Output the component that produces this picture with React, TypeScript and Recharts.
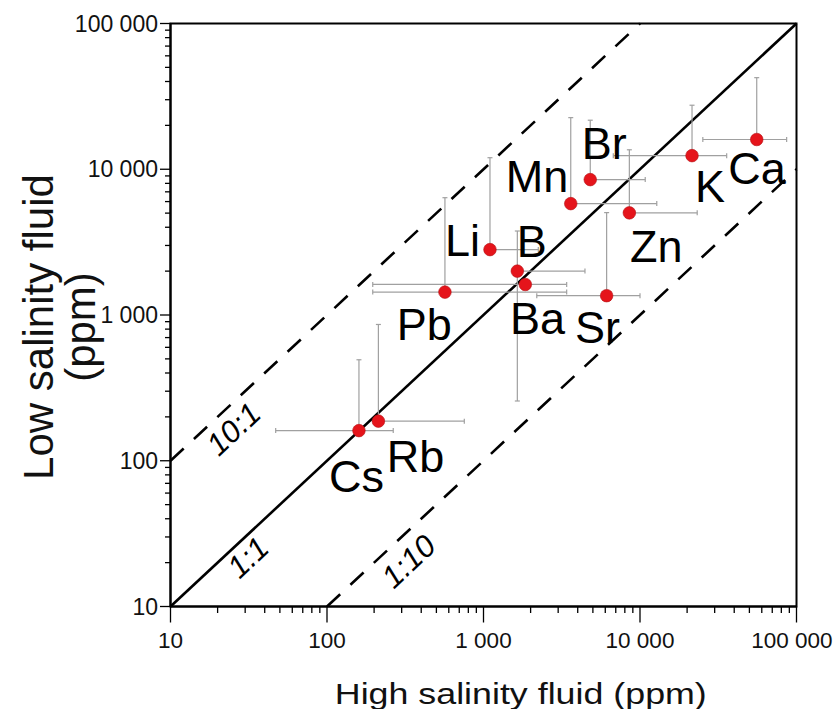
import React from 'react';
import {
  ScatterChart,
  Scatter,
  XAxis,
  YAxis,
  ErrorBar,
  ReferenceLine,
  ReferenceArea,
  ReferenceDot,
  Label,
} from 'recharts';

// ---- data ----
const elements = ['Cs', 'Rb', 'Pb', 'Li', 'B', 'Ba', 'Sr', 'Mn', 'Br', 'Zn', 'K', 'Ca'];
const highSalinity = [160, 213, 567, 1100, 1645, 1850, 6120, 3610, 4810, 8550, 21500, 55700];
const lowSalinity = [161, 187, 1436, 2810, 2000, 1620, 1357, 5810, 8490, 5020, 12400, 16000];
const highMin = [47, 213, 196, 1100, 1645, 196, 2190, 3610, 4810, 8550, 6750, 25200];
const highMax = [265, 754, 3400, 2240, 4450, 3400, 10000, 12800, 10800, 23200, 35800, 86500];
const lowMin = [161, 187, 1436, 2810, 257, 1620, 1357, 5810, 8490, 5020, 12400, 16000];
const lowMax = [493, 861, 6380, 12000, 3770, 1620, 5040, 22600, 21700, 13600, 27500, 42500];

const majorTicks = [10, 100, 1000, 10000, 100000];
const majorTickLabels = ['10', '100', '1 000', '10 000', '100 000'];
const minorMultipliers = [2, 3, 4, 5, 6, 7, 8, 9];

const ratioLabels = ['10:1', '1:1', '1:10'];
const ratioFactors = [10, 1, 0.1];
const ratioLabelX = [25.3, 31.3, 332];
const ratioLabelY = [165, 21.7, 20.4];

const DOMAIN: [number, number] = [10, 100000];

const allTicks = [
  ...majorTicks,
  ...majorTicks.slice(0, -1).flatMap((d) => minorMultipliers.map((m) => d * m)),
];

const data = elements.map((el, i) => ({
  el,
  x: highSalinity[i],
  y: lowSalinity[i],
  ex: [highSalinity[i] - highMin[i], highMax[i] - highSalinity[i]],
  ey: [lowSalinity[i] - lowMin[i], lowMax[i] - lowSalinity[i]],
}));

// label placement relative to the dot: [dx, dy, anchor]
const labelOffset: Record<string, [number, number, string]> = {
  Br: [-8.6, -21, 'start'],
  Mn: [-2.4, -11.6, 'end'],
  Li: [-10, 6.7, 'end'],
  B: [-0.6, -14, 'start'],
  Zn: [0.7, 49.2, 'start'],
  K: [3, 46.4, 'start'],
  Ca: [-28.4, 44.3, 'start'],
  Pb: [-48.3, 47.6, 'start'],
  Ba: [-15.3, 49.3, 'start'],
  Sr: [-31.7, 47.7, 'start'],
  Cs: [-30, 61.7, 'start'],
  Rb: [8.4, 51, 'start'],
};

const FONT = '"Liberation Sans", Arial, Helvetica, sans-serif';
const SLOPE_ANGLE = -43;

const XTick = (props: any) => {
  const { x, y, payload } = props;
  const idx = majorTicks.indexOf(payload.value);
  const major = idx >= 0;
  const last = idx === majorTicks.length - 1;
  return (
    <g>
      <line x1={x} x2={x} y1={y} y2={y + (major ? 16 : 6.5)} stroke="#000" strokeWidth={1.3} />
      {major && (
        <text
          x={last ? x + 36 : x}
          y={y + 41}
          textAnchor={last ? 'end' : 'middle'}
          fontSize={22.5}
          fontFamily={FONT}
          fill="#111"
        >
          {majorTickLabels[idx]}
        </text>
      )}
    </g>
  );
};

const YTick = (props: any) => {
  const { x, y, payload } = props;
  const idx = majorTicks.indexOf(payload.value);
  const major = idx >= 0;
  return (
    <g>
      <line x1={x} x2={x - (major ? 10.5 : 5.5)} y1={y} y2={y} stroke="#000" strokeWidth={1.3} />
      {major && (
        <text x={x - 12.5} y={y + 8} textAnchor="end" fontSize={23} fontFamily={FONT} fill="#111">
          {majorTickLabels[idx]}
        </text>
      )}
    </g>
  );
};

const XTitle = (props: any) => {
  const vb = props.viewBox;
  return (
    <text
      x={vb.x + vb.width / 2 + 37.3}
      y={vb.y + 97.8}
      textAnchor="middle"
      fontSize={30}
      fontFamily={FONT}
      fill="#111"
      textLength={372}
      lengthAdjust="spacingAndGlyphs"
    >
      High salinity fluid (ppm)
    </text>
  );
};

const YTitle = (props: any) => {
  const vb = props.viewBox;
  const cy = vb.y + vb.height / 2 + 12;
  const x1 = vb.x + 38;
  const x2 = vb.x + 80;
  return (
    <g>
      <text
        x={x1}
        y={cy}
        transform={`rotate(-90, ${x1}, ${cy})`}
        textAnchor="middle"
        dominantBaseline="central"
        fontSize={42}
        fontFamily={FONT}
        fill="#111"
      >
        Low salinity fluid
      </text>
      <text
        x={x2}
        y={cy}
        transform={`rotate(-90, ${x2}, ${cy})`}
        textAnchor="middle"
        dominantBaseline="central"
        fontSize={42}
        fontFamily={FONT}
        fill="#111"
      >
        (ppm)
      </text>
    </g>
  );
};

const DotShape = (props: any) => {
  const { cx, cy, payload } = props;
  const off = labelOffset[payload.el] || [0, 0, 'start'];
  return (
    <g>
      <circle cx={cx} cy={cy} r={6.3} fill="#e5141b" stroke="#b30f12" strokeWidth={0.6} />
      <text
        x={cx + off[0]}
        y={cy + off[1]}
        textAnchor={off[2] as any}
        fontSize={45}
        fontFamily={FONT}
        fill="#000"
      >
        {payload.el}
      </text>
    </g>
  );
};

const RatioText = (label: string) => (props: any) => {
  const { cx, cy } = props;
  return (
    <text
      x={cx}
      y={cy}
      transform={`rotate(${SLOPE_ANGLE}, ${cx}, ${cy})`}
      textAnchor="middle"
      dominantBaseline="central"
      fontSize={31}
      fontStyle="italic"
      fontFamily={FONT}
      fill="#000"
    >
      {label}
    </text>
  );
};

export default function App() {
  return (
    <div style={{ position: 'absolute', left: 0, top: 0, width: 835, height: 709, background: '#fff' }}>
      <ScatterChart
        width={835}
        height={709}
        margin={{ top: 23.5, right: 38.5, bottom: 0, left: 0 }}
      >
        <XAxis
          type="number"
          dataKey="x"
          scale="log"
          domain={DOMAIN}
          allowDataOverflow
          ticks={allTicks}
          interval={0}
          tickSize={0}
          tickMargin={0}
          tickLine={false}
          tick={(p: any) => <XTick {...p} />}
          axisLine={{ stroke: '#000', strokeWidth: 2 }}
          height={102.5}
          label={<Label content={(p: any) => <XTitle {...p} />} />}
        />
        <YAxis
          type="number"
          dataKey="y"
          scale="log"
          domain={DOMAIN}
          allowDataOverflow
          ticks={allTicks}
          interval={0}
          tickSize={0}
          tickMargin={0}
          tickLine={false}
          tick={(p: any) => <YTick {...p} />}
          axisLine={{ stroke: '#000', strokeWidth: 2 }}
          width={170.5}
          label={<Label content={(p: any) => <YTitle {...p} />} />}
        />
        <ReferenceArea
          x1={DOMAIN[0]}
          x2={DOMAIN[1]}
          y1={DOMAIN[0]}
          y2={DOMAIN[1]}
          fill="none"
          fillOpacity={0}
          stroke="#000"
          strokeWidth={2}
        />
        {ratioFactors.map((f, i) => (
          <ReferenceLine
            key={ratioLabels[i]}
            segment={[
              { x: Math.max(DOMAIN[0], DOMAIN[0] / f), y: Math.max(DOMAIN[0], DOMAIN[0] * f) },
              { x: Math.min(DOMAIN[1], DOMAIN[1] / f), y: Math.min(DOMAIN[1], DOMAIN[1] * f) },
            ]}
            stroke="#000"
            strokeWidth={2.6}
            strokeDasharray={f === 1 ? undefined : '18 14'}
          />
        ))}
        {ratioLabels.map((lab, i) => (
          <ReferenceDot
            key={'lab' + lab}
            x={ratioLabelX[i]}
            y={ratioLabelY[i]}
            r={0}
            shape={RatioText(lab)}
          />
        ))}
        <Scatter data={data} isAnimationActive={false} shape={(p: any) => <DotShape {...p} />}>
          <ErrorBar dataKey="ex" direction="x" stroke="#a0a0a0" strokeWidth={1.2} width={2.5} />
          <ErrorBar dataKey="ey" direction="y" stroke="#a0a0a0" strokeWidth={1.2} width={2.5} />
        </Scatter>
      </ScatterChart>
    </div>
  );
}
